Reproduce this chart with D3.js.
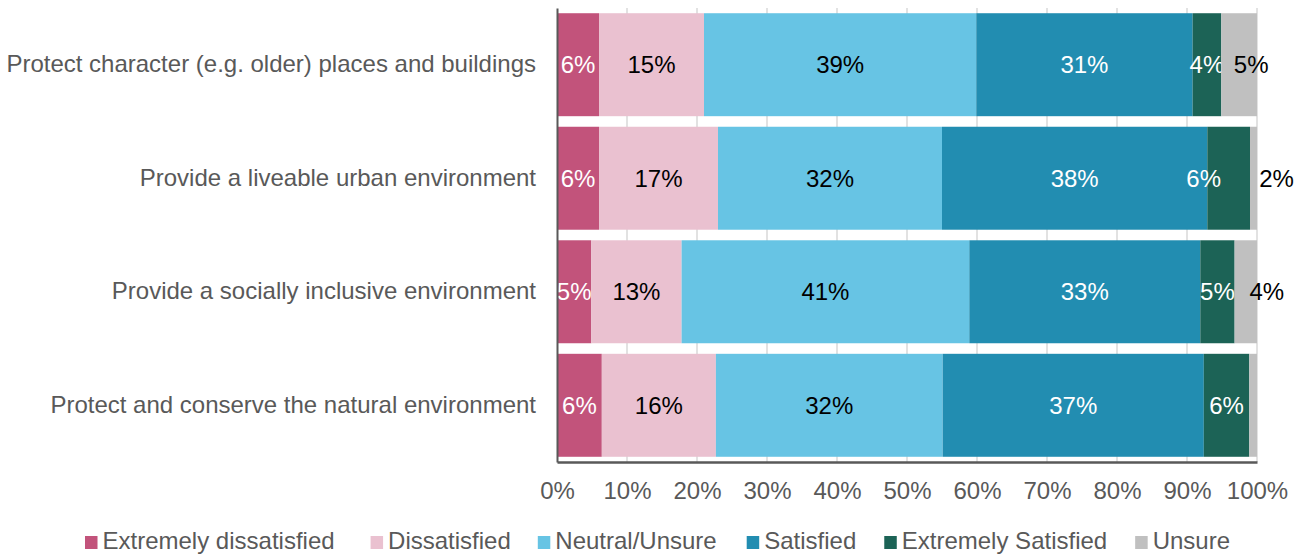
<!DOCTYPE html>
<html>
<head>
<meta charset="utf-8">
<script src="https://cdn.jsdelivr.net/npm/d3@7"></script>
<style>
  body { margin: 0; background: #fff; }
  svg { display: block; font-family: "Liberation Sans", Arial, sans-serif; }
</style>
</head>
<body>
<svg id="chart" width="1306" height="557"></svg>
<script>
// Survey statements, top to bottom.
var categories = [
  'Protect character (e.g. older) places and buildings',
  'Provide a liveable urban environment',
  'Provide a socially inclusive environment',
  'Protect and conserve the natural environment'
];

var seriesNames = ['Extremely dissatisfied', 'Dissatisfied', 'Neutral/Unsure',
  'Satisfied', 'Extremely Satisfied', 'Unsure'];

// Share of responses (%) per statement, one array per series.
var extremelyDissatisfied = [6.0, 6.0, 4.9, 6.4];
var dissatisfied          = [15.0, 17.0, 12.9, 16.3];
var neutralUnsure         = [38.9, 32.0, 41.1, 32.4];
var satisfied             = [30.9, 37.9, 33.0, 37.3];
var extremelySatisfied    = [4.1, 6.1, 4.9, 6.5];
var unsure                = [5.1, 1.0, 3.2, 1.1];

// Data labels as printed on the chart ('' = no label).
var labels = [
  ['6%', '15%', '39%', '31%', '4%', '5%'],
  ['6%', '17%', '32%', '38%', '6%', '2%'],
  ['5%', '13%', '41%', '33%', '5%', '4%'],
  ['6%', '16%', '32%', '37%', '6%', '']
];

var xTicks = [0, 10, 20, 30, 40, 50, 60, 70, 80, 90, 100];

var colors = ['#c2537b', '#eac1d0', '#67c4e4', '#228db1', '#1c6356', '#c0c0c0'];
var labelColors = ['#ffffff', '#000000', '#000000', '#ffffff', '#ffffff', '#000000'];
// Hand-placed labels in the original (series index -> dx per row).
var labelNudge = { 4: [0, -25, 0, 0], 5: [12, 23, 21, 0] };

var series = [extremelyDissatisfied, dissatisfied, neutralUnsure,
  satisfied, extremelySatisfied, unsure];

var rows = categories.map(function(c, i) {
  var row = { category: c, index: i };
  seriesNames.forEach(function(s, j) { row[s] = series[j][i]; });
  return row;
});

var svg = d3.select('#chart');
var margin = { top: 8, left: 557, right: 49, bottom: 95 };
var width = 1306 - margin.left - margin.right;
var height = 557 - margin.top - margin.bottom;
var textColor = '#595959';
var fontSize = 24;

var g = svg.append('g')
  .attr('transform', 'translate(' + margin.left + ',' + margin.top + ')');

var x = d3.scaleLinear().domain([0, 100]).range([0, width]);
var y = d3.scaleBand().domain(categories).range([0, height]).paddingInner(0.093).paddingOuter(0.046);

// Vertical gridlines.
g.append('g')
  .selectAll('line')
  .data(xTicks.slice(1))
  .enter().append('line')
    .attr('x1', function(d) { return x(d); })
    .attr('x2', function(d) { return x(d); })
    .attr('y1', 0)
    .attr('y2', height)
    .attr('stroke', '#d9d9d9')
    .attr('stroke-width', 1.5);

var stack = d3.stack().keys(seriesNames)(rows);

var layers = g.append('g')
  .selectAll('g')
  .data(stack)
  .enter().append('g')
    .attr('fill', function(d, i) { return colors[i]; });

layers.selectAll('rect')
  .data(function(d) { return d; })
  .enter().append('rect')
    .attr('x', function(d) { return x(d[0]); })
    .attr('y', function(d) { return y(d.data.category); })
    .attr('width', function(d) { return x(d[1]) - x(d[0]); })
    .attr('height', y.bandwidth());

// Data labels.
layers.each(function(layer, si) {
  d3.select(this).selectAll('text')
    .data(layer)
    .enter().append('text')
      .attr('x', function(d, ri) {
        var nudge = labelNudge[si] ? labelNudge[si][ri] : 0;
        return x((d[0] + d[1]) / 2) + nudge;
      })
      .attr('y', function(d) { return y(d.data.category) + y.bandwidth() / 2; })
      .attr('dy', '0.35em')
      .attr('text-anchor', 'middle')
      .attr('fill', labelColors[si])
      .style('font-size', fontSize + 'px')
      .text(function(d, ri) { return labels[ri][si]; });
});

// Category axis.
var yAxis = g.append('g')
  .call(d3.axisLeft(y).tickSize(0).tickPadding(21));
yAxis.select('.domain').attr('stroke', textColor).attr('stroke-width', 2);
yAxis.selectAll('text')
  .attr('fill', textColor)
  .style('font-size', fontSize + 'px');

// Percentage axis.
var xAxis = g.append('g')
  .attr('transform', 'translate(0,' + height + ')')
  .call(d3.axisBottom(x)
    .tickValues(xTicks)
    .tickSize(0)
    .tickPadding(20)
    .tickFormat(function(d) { return d + '%'; }));
xAxis.select('.domain').attr('stroke', textColor).attr('stroke-width', 2.5);
xAxis.selectAll('text')
  .attr('fill', textColor)
  .style('font-size', fontSize + 'px');

// Legend along the bottom.
var legend = svg.append('g').attr('transform', 'translate(85,541)');
var items = legend.selectAll('g')
  .data(seriesNames)
  .enter().append('g');
items.append('rect')
  .attr('width', 12.5)
  .attr('height', 13)
  .attr('y', -5)
  .attr('fill', function(d, i) { return colors[i]; });
items.append('text')
  .attr('x', 17.5)
  .attr('dy', '0.35em')
  .attr('fill', textColor)
  .style('font-size', fontSize + 'px')
  .text(function(d) { return d; });

var gaps = [36, 27, 30, 28, 28];
var offset = 0;
items.each(function(d, i) {
  d3.select(this).attr('transform', 'translate(' + offset + ',0)');
  offset += this.getBBox().width + (gaps[i] || 0);
});
</script>
</body>
</html>
